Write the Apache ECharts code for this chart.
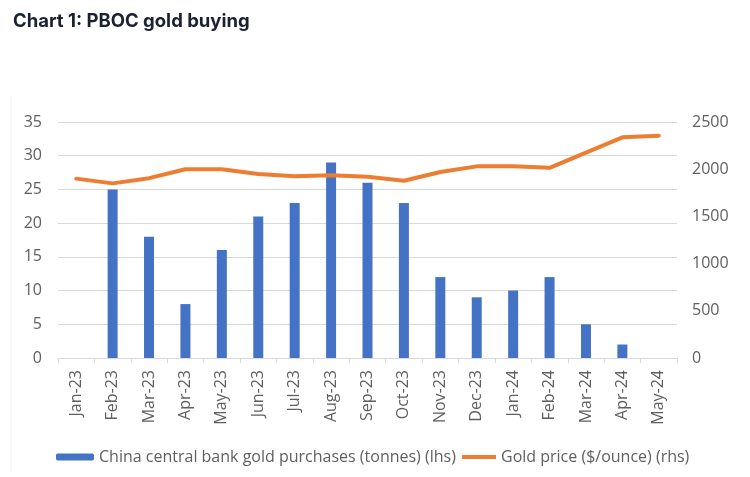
<!DOCTYPE html>
<html>
<head>
<meta charset="utf-8">
<script src="https://cdn.jsdelivr.net/npm/echarts@6/dist/echarts.min.js"></script>
<style>
html,body{margin:0;padding:0;background:#fff;}
#chart{width:750px;height:477px;}
</style>
</head>
<body>
<div id="chart"></div>
<script>
const categories = ['Jan-23','Feb-23','Mar-23','Apr-23','May-23','Jun-23','Jul-23','Aug-23','Sep-23','Oct-23','Nov-23','Dec-23','Jan-24','Feb-24','Mar-24','Apr-24','May-24'];
const purchases = [0, 25, 18, 8, 16, 21, 23, 29, 26, 23, 12, 9, 10, 12, 5, 2, 0];
const goldPrice = [1900, 1850, 1905, 2000, 2000, 1950, 1925, 1935, 1920, 1878, 1970, 2030, 2030, 2015, 2175, 2338, 2355];
const leftTicks = { min: 0, max: 35, interval: 5 };
const rightTicks = { min: 0, max: 2500, interval: 500 };
const barName = 'China central bank gold purchases (tonnes) (lhs)';
const lineName = 'Gold price ($/ounce) (rhs)';

const chart = echarts.init(document.getElementById('chart'), null, { renderer: 'canvas' });
const labelColor = '#5f5f5f';
const font = 'Open Sans';
chart.setOption({
  animation: false,
  backgroundColor: '#ffffff',
  title: {
    text: 'Chart 1: PBOC gold buying',
    left: 8, top: 7,
    textStyle: { fontFamily: 'Inter', fontWeight: 'bold', fontSize: 18.5, color: '#1a2133' }
  },
  graphic: [{
    type: 'line', shape: { x1: 11, y1: 96, x2: 11, y2: 472 },
    style: { stroke: '#eeeeee', lineWidth: 1 }
  }],
  legend: [{
    data: [barName], left: 56, top: 449, padding: 0,
    itemWidth: 38, itemHeight: 7, itemGap: 6,
    textStyle: { fontFamily: font, fontSize: 16, color: labelColor }
  }, {
    data: [{ name: lineName, icon: 'rect' }], left: 462, top: 449, padding: 0,
    itemWidth: 34, itemHeight: 4,
    textStyle: { fontFamily: font, fontSize: 16, color: labelColor }
  }],
  grid: { left: 58, right: 73, top: 122, bottom: 119, containLabel: false },
  xAxis: {
    type: 'category', data: categories,
    axisLine: { lineStyle: { color: '#d9d9d9', width: 1 } },
    axisTick: { show: true, length: 5, lineStyle: { color: '#d9d9d9' } },
    axisLabel: { rotate: 90, margin: 12, fontFamily: font, fontSize: 16, color: labelColor, interval: 0 }
  },
  yAxis: [{
    type: 'value', min: leftTicks.min, max: leftTicks.max, interval: leftTicks.interval,
    axisLine: { show: false }, axisTick: { show: false },
    splitLine: { lineStyle: { color: '#d9d9d9', width: 1 } },
    axisLabel: { margin: 16, fontFamily: font, fontSize: 16, color: labelColor }
  }, {
    type: 'value', min: rightTicks.min, max: rightTicks.max, interval: rightTicks.interval,
    axisLine: { show: false }, axisTick: { show: false },
    splitLine: { show: false },
    axisLabel: { margin: 15, fontFamily: font, fontSize: 16, color: labelColor, formatter: function (v) { return String(v); } }
  }],
  series: [{
    name: barName, type: 'bar', data: purchases, yAxisIndex: 0,
    barWidth: 10,
    itemStyle: { color: '#4472c4' }
  }, {
    name: lineName, type: 'line', data: goldPrice, yAxisIndex: 1,
    symbol: 'none',
    lineStyle: { color: '#ed7d31', width: 4, join: 'round', cap: 'round' },
    itemStyle: { color: '#ed7d31' }
  }]
});
</script>
</body>
</html>
